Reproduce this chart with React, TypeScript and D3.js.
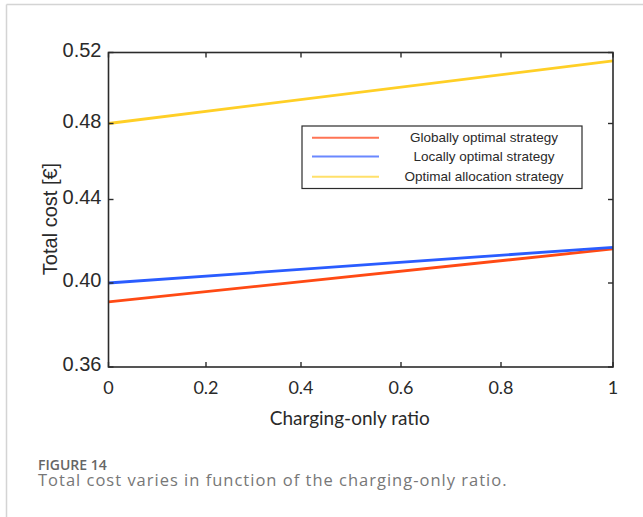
import React from "react";
import * as d3 from "d3";

// ---- data ----
const xTicks = [0, 0.2, 0.4, 0.6, 0.8, 1];
const xTickLabels = ["0", "0.2", "0.4", "0.6", "0.8", "1"];
const yTicks = [0.36, 0.4, 0.44, 0.48, 0.52];
const yTickLabels = ["0.36", "0.40", "0.44", "0.48", "0.52"];

const ratio = [0, 1];
const globallyOptimal = [0.391, 0.4163];
const locallyOptimal = [0.4, 0.4171];
const optimalAllocation = [0.48, 0.5153];

const seriesNames = [
  "Globally optimal strategy",
  "Locally optimal strategy",
  "Optimal allocation strategy",
];
const seriesColors = ["#ff4a14", "#2a5cff", "#ffcf26"];
const legendColors = ["#ff7455", "#6a88ff", "#ffe06a"];

const xTitle = "Charging-only ratio";
const yTitle = "Total cost [€]";
const figLabel = "FIGURE 14";
const caption = "Total cost varies in function of the charging-only ratio.";

export default function App() {
  const W = 643;
  const H = 517;
  const left = 108.5;
  const right = 613;
  const top = 52.5;
  const bottom = 367;

  // the source raster has slightly uneven tick spacing; piecewise scales follow it
  const x = d3
    .scaleLinear()
    .domain(xTicks)
    .range([left, 206, 301, 401, 501, right]);
  const y = d3
    .scaleLinear()
    .domain(yTicks)
    .range([bottom, 283, 199.5, 123.5, top]);

  const series = [globallyOptimal, locallyOptimal, optimalAllocation];
  const line = d3
    .line<number>()
    .x((_, i) => x(ratio[i]))
    .y((d) => y(d));

  const axisColor = "#2b2b2b";
  const tickLen = 5;
  const yFont = "'Liberation Sans', Arial, sans-serif";
  const xFont = "Lato, 'Open Sans', sans-serif";

  const legendX0 = 302;
  const legendX1 = 582;
  const legendY0 = 126;
  const legendY1 = 188.5;
  const legendRows = [137.7, 156.5, 176.7];

  return (
    <svg
      width={W}
      height={H}
      style={{ position: "absolute", left: 0, top: 0, background: "#fff" }}
    >
      <rect x={0} y={0} width={W} height={H} fill="#fff" />
      {/* card frame */}
      <line x1={6.5} x2={W} y1={4.5} y2={4.5} stroke="#d4d4d4" strokeWidth={1.5} />
      <line x1={6.5} x2={6.5} y1={4.5} y2={H} stroke="#d4d4d4" strokeWidth={1.5} />

      <defs>
        <clipPath id="plotclip">
          <rect x={left - 2} y={top - 2} width={right - left + 4} height={bottom - top + 4} />
        </clipPath>
      </defs>

      {/* series lines */}
      <g clipPath="url(#plotclip)">
        {series.map((s, i) => (
          <path
            key={i}
            d={line(s) || ""}
            fill="none"
            stroke={seriesColors[i]}
            strokeWidth={2.8}
          />
        ))}
      </g>

      {/* box */}
      <rect
        x={left}
        y={top}
        width={right - left}
        height={bottom - top}
        fill="none"
        stroke={axisColor}
        strokeWidth={1.6}
      />

      {/* x ticks */}
      {xTicks.map((t, i) => (
        <g key={"xt" + i}>
          <line x1={x(t)} x2={x(t)} y1={bottom} y2={bottom - tickLen} stroke={axisColor} strokeWidth={1.4} />
          <line x1={x(t)} x2={x(t)} y1={top} y2={top + tickLen} stroke={axisColor} strokeWidth={1.4} />
          <text
            x={x(t)}
            y={bottom + 27}
            textAnchor="middle"
            fontFamily={xFont}
            fontSize={18}
            fill="#2a2a2a"
          >
            {xTickLabels[i]}
          </text>
        </g>
      ))}

      {/* y ticks */}
      {yTicks.map((t, i) => (
        <g key={"yt" + i}>
          <line x1={left} x2={left + tickLen} y1={y(t)} y2={y(t)} stroke={axisColor} strokeWidth={1.4} />
          <line x1={right} x2={right - tickLen} y1={y(t)} y2={y(t)} stroke={axisColor} strokeWidth={1.4} />
          <text
            x={left - 7}
            y={y(t) + 4}
            textAnchor="end"
            fontFamily={yFont}
            fontSize={20}
            fill="#2a2a2a"
          >
            {yTickLabels[i]}
          </text>
        </g>
      ))}

      {/* axis titles */}
      <text
        x={(left + right) / 2 - 11}
        y={425}
        textAnchor="middle"
        fontFamily={xFont}
        fontSize={19}
        fill="#2a2a2a"
      >
        {xTitle}
      </text>
      <text
        transform={`translate(57, 219) rotate(-90)`}
        textAnchor="middle"
        fontFamily={yFont}
        fontSize={20}
        fill="#2a2a2a"
      >
        {yTitle}
      </text>

      {/* legend */}
      <rect
        x={legendX0}
        y={legendY0}
        width={legendX1 - legendX0}
        height={legendY1 - legendY0}
        fill="#fff"
        stroke={axisColor}
        strokeWidth={1.2}
      />
      {seriesNames.map((name, i) => (
        <g key={"lg" + i}>
          <line
            x1={312}
            x2={379}
            y1={legendRows[i]}
            y2={legendRows[i]}
            stroke={legendColors[i]}
            strokeWidth={2}
          />
          <text
            x={484}
            y={legendRows[i] + 4.5}
            textAnchor="middle"
            fontFamily={yFont}
            fontSize={13.5}
            fill="#2a2a2a"
          >
            {name}
          </text>
        </g>
      ))}

      {/* caption */}
      <text
        x={38}
        y={470}
        fontFamily="'Open Sans', sans-serif"
        fontWeight={600}
        fontSize={14}
        fill="#666"
      >
        {figLabel}
      </text>
      <text
        x={38}
        y={486}
        fontFamily="'Open Sans', sans-serif"
        fontWeight={400}
        fontSize={16.5}
        letterSpacing={1}
        fill="#777"
      >
        {caption}
      </text>
    </svg>
  );
}
